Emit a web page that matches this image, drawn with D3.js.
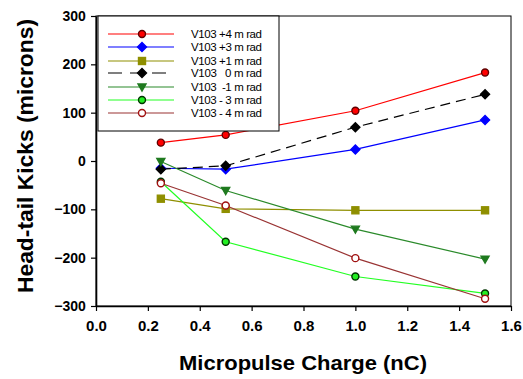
<!DOCTYPE html>
<html><head><meta charset="utf-8">
<script src="https://cdn.jsdelivr.net/npm/d3@7"></script>
<style>body{margin:0;background:#fff}svg{display:block}</style>
</head><body><svg id="c" width="523" height="379"></svg>
<script>
const charges = [0.25, 0.5, 1.0, 1.5];
const seriesNames = ["V103 +4 m rad","V103 +3 m rad","V103 +1 m rad","V103   0 m rad","V103  -1 m rad","V103 - 3 m rad","V103 - 4 m rad"];
const plus4 = [38, 54, 104, 183];
const plus3 = [-15, -17, 24, 85];
const plus1 = [-78, -99, -102, -102];
const zero = [-17, -10, 70, 138];
const minus1 = [-1, -61, -141, -203];
const minus3 = [-43, -167, -239, -274];
const minus4 = [-46, -92, -201, -285];
const xTicks = [0.0,0.2,0.4,0.6,0.8,1.0,1.2,1.4,1.6];
const yTicks = [-300,-200,-100,0,100,200,300];

const series = [
 {name:seriesNames[0], v:plus4, color:"#ff0000", fill:"#ff0000", stroke:"#600000", sym:"circle"},
 {name:seriesNames[1], v:plus3, color:"#0000ff", fill:"#0000ff", stroke:"#0000ff", sym:"diamond"},
 {name:seriesNames[2], v:plus1, color:"#8f8f00", fill:"#8f8f00", stroke:"#8f8f00", sym:"square"},
 {name:seriesNames[3], v:zero, color:"#000000", fill:"#000000", stroke:"#000000", sym:"diamond", dash:"10,6"},
 {name:seriesNames[4], v:minus1, color:"#2a8a2a", fill:"#1f7a1f", stroke:"#1f7a1f", sym:"tri"},
 {name:seriesNames[5], v:minus3, color:"#22ff22", fill:"#22ee22", stroke:"#003300", sym:"circle"},
 {name:seriesNames[6], v:minus4, color:"#993333", fill:"#ffffff", stroke:"#a01010", sym:"circle"}
];

const svg = d3.select("#c");
const L=96,R=511,T=16,B=306;
const x = d3.scaleLinear().domain([0,1.6]).range([L,R]);
const y = d3.scaleLinear().domain([-300,300]).range([B,T]);

function marker(g, sym, cx, cy, s){
  let p;
  if(sym==="circle") p = g.append("circle").attr("cx",cx).attr("cy",cy).attr("r",3.5);
  else if(sym==="diamond") p = g.append("path").attr("d",`M${cx},${cy-4.5}L${cx+4.5},${cy}L${cx},${cy+4.5}L${cx-4.5},${cy}Z`);
  else if(sym==="square") p = g.append("rect").attr("x",cx-3.5).attr("y",cy-3.5).attr("width",7).attr("height",7);
  else if(sym==="tri") p = g.append("path").attr("d",`M${cx-4},${cy-3}L${cx+4},${cy-3}L${cx},${cy+4}Z`);
  p.attr("fill",s.fill).attr("stroke",s.stroke).attr("stroke-width",1.4);
}

// frame
svg.append("rect").attr("x",L).attr("y",T).attr("width",R-L).attr("height",B-T).attr("fill","none").attr("stroke","#000").attr("stroke-width",1);

const line = d3.line().x((d,i)=>x(charges[i])).y(d=>y(d));
series.forEach(s=>{
  svg.append("path").attr("d",line(s.v)).attr("fill","none").attr("stroke",s.color).attr("stroke-width",1.2).attr("stroke-dasharray",s.dash||null);
});
series.forEach(s=>{
  const g=svg.append("g");
  s.v.forEach((d,i)=>marker(g,s.sym,x(charges[i]),y(d),s));
});

// axes
const xa = svg.append("g").attr("transform",`translate(0,${B})`).call(d3.axisBottom(x).tickValues(xTicks).tickFormat(d3.format(".1f")).tickSizeInner(5).tickSizeOuter(0));
const ya = svg.append("g").attr("transform",`translate(${L},0)`).call(d3.axisLeft(y).tickValues(yTicks).tickFormat(d3.format("d")).tickSizeInner(5).tickSizeOuter(0));
[xa,ya].forEach(a=>{a.select(".domain").attr("stroke-width",1.6);a.selectAll(".tick line").attr("stroke-width",1.2);});
xa.selectAll("text").attr("font-family","Arial, 'Liberation Sans'").attr("font-weight","bold").attr("font-size",15).attr("fill","#000").attr("dy","1.1em");
ya.selectAll("text").attr("font-family","Arial, 'Liberation Sans'").attr("font-weight","bold").attr("font-size",14).attr("fill","#000").attr("dx","-0.15em");

// titles
svg.append("text").attr("x",303).attr("y",370).attr("text-anchor","middle").attr("font-family","Arial, 'Liberation Sans'").attr("font-weight","bold").attr("font-size",21).attr("textLength",248).attr("lengthAdjust","spacingAndGlyphs").text("Micropulse Charge (nC)");
svg.append("text").attr("transform","translate(33,156) rotate(-90)").attr("text-anchor","middle").attr("font-family","Arial, 'Liberation Sans'").attr("font-weight","bold").attr("font-size",22).attr("textLength",274).attr("lengthAdjust","spacingAndGlyphs").text("Head-tail Kicks (microns)");

// legend
const lg = svg.append("g");
lg.append("rect").attr("x",98).attr("y",16).attr("width",181).attr("height",115).attr("fill","#fff").attr("stroke","#000").attr("stroke-width",1);
const rowY=[34,47,61,73,87,100,113];
series.forEach((s,i)=>{
  lg.append("line").attr("x1",108).attr("x2",174).attr("y1",rowY[i]).attr("y2",rowY[i]).attr("stroke",s.color).attr("stroke-width",1.2).attr("stroke-dasharray",s.dash?"14,8":null);
  marker(lg,s.sym,142,rowY[i],s);
  lg.append("text").attr("x",191).attr("y",rowY[i]+4).attr("font-family","Arial, 'Liberation Sans'").attr("font-size",11.5).attr("font-weight",500).style("white-space","pre").attr("fill","#000").attr("textLength",71).attr("lengthAdjust","spacing").text(s.name);
});
</script></body></html>
